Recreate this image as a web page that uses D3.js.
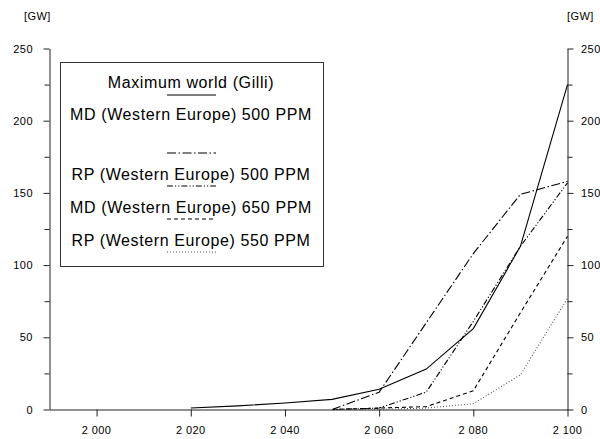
<!DOCTYPE html>
<html>
<head>
<meta charset="utf-8">
<script src="https://cdn.jsdelivr.net/npm/d3@7"></script>
<style>
  html, body { margin: 0; padding: 0; background: #fff; }
  svg { display: block; }
  text { font-family: Arial, "Liberation Sans", sans-serif; fill: #000; }
</style>
</head>
<body>
<svg id="chart" width="600" height="439"></svg>
<script>
// ---- data ----
const yearsGilli = [2020, 2030, 2040, 2050, 2060, 2070, 2080, 2090, 2100];
const gilli      = [1, 2.5, 4.5, 7, 14, 28, 56, 113, 225];
const yearsWE    = [2050, 2060, 2070, 2080, 2090, 2100];
const md500      = [0, 12, 60, 108, 149, 158];
const rp500      = [0, 1, 12, 61, 113, 157];
const md650      = [0, 1, 2, 13, 67, 120];
const rp550      = [0, 0, 1, 4, 24, 77];
const xTicks     = [2000, 2020, 2040, 2060, 2080, 2100];
const yTicks     = [0, 50, 100, 150, 200, 250];
const yMinor     = [25, 75, 125, 175, 225];
const unitLabel  = "[GW]";
const seriesNames = [
  "Maximum world (Gilli)",
  "MD (Western Europe) 500 PPM",
  "RP (Western Europe) 500 PPM",
  "MD (Western Europe) 650 PPM",
  "RP (Western Europe) 550 PPM"
];

const series = [
  { name: seriesNames[0], x: yearsGilli, y: gilli, dash: null,              color: "#000" },
  { name: seriesNames[1], x: yearsWE,    y: md500, dash: "9,2.5,1.5,2.5",   color: "#000" },
  { name: seriesNames[2], x: yearsWE,    y: rp500, dash: "6,2,1.2,2,1.2,2", color: "#000" },
  { name: seriesNames[3], x: yearsWE,    y: md650, dash: "4,3",             color: "#000" },
  { name: seriesNames[4], x: yearsWE,    y: rp550, dash: "1,2",             color: "#555" }
];

const svg = d3.select("#chart");
const x = d3.scaleLinear().domain([1990, 2100]).range([49.5, 567.5]);
const y = d3.scaleLinear().domain([0, 250]).range([409.5, 48.5]);

function addText(g, tx, ty, str, size, anchor, ls) {
  return g.append("text")
    .attr("x", tx).attr("y", ty)
    .attr("text-anchor", anchor || "start")
    .style("font-size", size + "px")
    .style("letter-spacing", (ls || 0) + "px")
    .text(str);
}

// ---- axes ----
const axisColor = "#222";
// bottom axis
const xAxis = svg.append("g").attr("transform", `translate(0,${y(0)})`)
  .call(d3.axisBottom(x).tickValues(xTicks).tickSize(7).tickSizeOuter(0).tickFormat(() => ""));
xAxis.select(".domain").attr("stroke", axisColor);
xAxis.selectAll(".tick line").attr("stroke", axisColor);
xTicks.forEach(t => {
  const s = d3.format(",")(t).replace(",", " ");
  addText(svg, x(t), 434, s, 11, "middle", 0.4);
});

// left axis
const yAxisL = svg.append("g").attr("transform", `translate(${x(1990)},0)`)
  .call(d3.axisLeft(y).tickValues(yTicks).tickSize(6).tickSizeOuter(0).tickFormat(() => ""));
yAxisL.select(".domain").attr("stroke", axisColor);
yAxisL.selectAll(".tick line").attr("stroke", axisColor);
svg.append("g").attr("transform", `translate(${x(1990)},0)`)
  .call(d3.axisLeft(y).tickValues(yMinor).tickSize(5).tickFormat(() => ""))
  .call(g => g.select(".domain").remove())
  .selectAll(".tick line").attr("stroke", axisColor);
yTicks.forEach(t => addText(svg, 33, y(t) + 4, String(t), 11, "end", 0.5));

// right axis
const yAxisR = svg.append("g").attr("transform", `translate(${x(2100)},0)`)
  .call(d3.axisRight(y).tickValues(yTicks).tickSize(6).tickSizeOuter(0).tickFormat(() => ""));
yAxisR.select(".domain").attr("stroke", axisColor);
yAxisR.selectAll(".tick line").attr("stroke", axisColor);
svg.append("g").attr("transform", `translate(${x(2100)},0)`)
  .call(d3.axisRight(y).tickValues(yMinor).tickSize(5).tickFormat(() => ""))
  .call(g => g.select(".domain").remove())
  .selectAll(".tick line").attr("stroke", axisColor);
yTicks.forEach(t => addText(svg, 581, y(t) + 4, String(t), 11, "start", 0.5));

// unit labels
addText(svg, 24, 20, unitLabel, 11, "start", 0.4);
addText(svg, 567, 20, unitLabel, 11, "start", 0.4);

// ---- lines ----
const line = d3.line().x(d => x(d[0])).y(d => y(d[1]));
series.forEach(s => {
  const pts = s.x.map((v, i) => [v, s.y[i]]);
  svg.append("path")
    .datum(pts)
    .attr("d", line)
    .attr("fill", "none")
    .attr("stroke", s.color)
    .attr("stroke-width", 1.1)
    .attr("stroke-dasharray", s.dash);
});

// ---- legend ----
const lg = svg.append("g");
lg.append("rect").attr("x", 60.5).attr("y", 62.5).attr("width", 263).attr("height", 204)
  .attr("fill", "#fff").attr("stroke", "#333").attr("stroke-width", 1);
const legendText = [88, 120, 180, 213, 246];
const legendSample = [95, 153, 186, 219, 252];
series.forEach((s, i) => {
  addText(lg, 191, legendText[i], s.name, 16, "middle", 0.6);
  lg.append("line")
    .attr("x1", 167).attr("x2", 216)
    .attr("y1", legendSample[i]).attr("y2", legendSample[i])
    .attr("stroke", s.color).attr("stroke-width", 1.1)
    .attr("stroke-dasharray", s.dash);
});
</script>
</body>
</html>
